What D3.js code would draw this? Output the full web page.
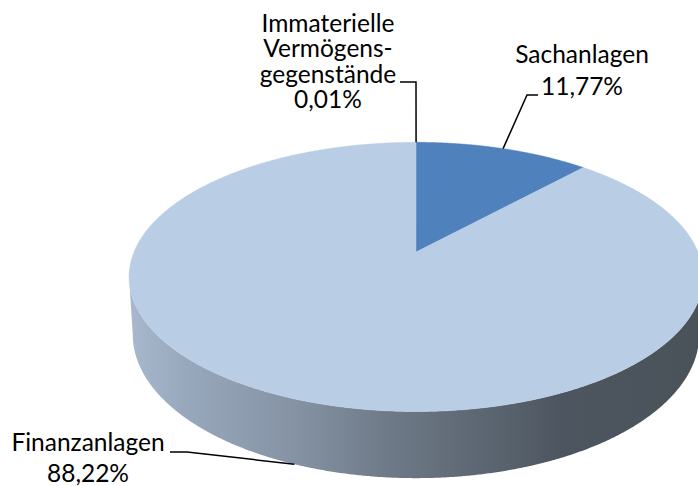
<!DOCTYPE html>
<html>
<head>
<meta charset="utf-8">
<script src="https://cdn.jsdelivr.net/npm/d3@7"></script>
<style>
  body { margin: 0; background: #fff; }
  text { font-family: Lato, "Open Sans", sans-serif; fill: #000; }
</style>
</head>
<body>
<div id="chart"></div>
<script>
// data
const categories = ['Immaterielle Vermögensgegenstände', 'Sachanlagen', 'Finanzanlagen'];
const shares = [0.01, 11.77, 88.22];
const valueLabels = ['0,01%', '11,77%', '88,22%'];
const nameLines = [['Immaterielle', 'Vermögens-', 'gegenstände'], ['Sachanlagen'], ['Finanzanlagen']];

const width = 698, height = 486;
const topColors = ['#2c4d75', '#4f81bd', '#b9cde5'];

// perspective disc: centre, half axes, perspective strength, thickness
const cx = 416, cy = 252, rx = 282, ry = 130, persp = 0.185, depth = 56, shrink = 0.987;

// label layout: text centre, first baseline, line step, leader elbow points
const labelLayout = [
  { x: 328, y: 32, step: 25.4, leader: [[400, 82], [416, 82]], edge: 'top' },
  { x: 582, y: 63, step: 32, leader: [[538, 95], [527, 95]], edge: 'top' },
  { x: 88, y: 451, step: 31, leader: [[170, 452], [187, 452]], edge: 'bottom' }
];

const svg = d3.select('#chart').append('svg')
    .attr('width', width)
    .attr('height', height);

function topPt(a) {
    const X = Math.sin(a), Z = -Math.cos(a), den = 1 - persp * Z;
    return [cx + rx * X / den, cy + ry * Z / den];
}
function botPt(a) {
    const X = Math.sin(a), Z = -Math.cos(a), den = 1 - persp * Z;
    return [cx + shrink * rx * X / den, cy + (shrink * ry * Z + depth) / den];
}
function arcPts(f, a0, a1) {
    const n = Math.max(2, Math.ceil((a1 - a0) / 0.005));
    return d3.range(n + 1).map(j => f(a0 + (a1 - a0) * j / n));
}

const arcs = d3.pie().sort(null).value(d => d)(shares);
const line = d3.line();

const defs = svg.append('defs');
const grad = defs.append('linearGradient')
    .attr('id', 'side')
    .attr('gradientUnits', 'userSpaceOnUse')
    .attr('x1', cx - rx / Math.sqrt(1 - persp * persp)).attr('x2', cx + rx / Math.sqrt(1 - persp * persp))
    .attr('y1', 0).attr('y2', 0);
[[0, '#a8b9cd'], [0.1, '#98a8bc'], [0.3, '#8391a2'], [0.45, '#6f7a88'], [0.62, '#5c6672'], [0.75, '#4d5660'], [1, '#4a5259']]
    .forEach(([o, c]) => grad.append('stop').attr('offset', o).attr('stop-color', c));

// visible outer wall lies between the two silhouette angles
const aL = Math.acos(-persp), aR = 2 * Math.PI - aL;
svg.append('g')
    .selectAll('path')
    .data(arcs.filter(d => Math.max(d.startAngle, aL) < Math.min(d.endAngle, aR)))
    .join('path')
    .attr('fill', 'url(#side)')
    .attr('d', d => {
        const s = Math.max(d.startAngle, aL), e = Math.min(d.endAngle, aR);
        return line(arcPts(topPt, s, e).concat(arcPts(botPt, s, e).reverse())) + 'Z';
    });

svg.append('g')
    .selectAll('path')
    .data(arcs)
    .join('path')
    .attr('fill', (d, i) => topColors[i])
    .attr('stroke', (d, i) => topColors[i])
    .attr('stroke-width', 0.5)
    .attr('d', d => line([[cx, cy]].concat(arcPts(topPt, d.startAngle, d.endAngle))) + 'Z');

// leader lines
svg.append('g')
    .attr('fill', 'none')
    .attr('stroke', '#000')
    .attr('stroke-width', 1.5)
    .selectAll('path')
    .data(arcs)
    .join('path')
    .attr('d', (d, i) => {
        const mid = (d.startAngle + d.endAngle) / 2;
        const end = labelLayout[i].edge === 'top' ? topPt(mid) : botPt(mid);
        return line(labelLayout[i].leader.concat([end]));
    });

// labels
const labels = svg.append('g')
    .attr('font-size', 24.5)
    .attr('text-anchor', 'middle')
    .selectAll('text')
    .data(arcs)
    .join('text')
    .attr('x', (d, i) => labelLayout[i].x)
    .attr('y', (d, i) => labelLayout[i].y);
labels.selectAll('tspan')
    .data((d, i) => nameLines[i].concat([valueLabels[i]]).map(t => ({ t, i })))
    .join('tspan')
    .attr('x', d => labelLayout[d.i].x)
    .attr('dy', (d, j) => j === 0 ? 0 : labelLayout[d.i].step)
    .text(d => d.t);
</script>
</body>
</html>
